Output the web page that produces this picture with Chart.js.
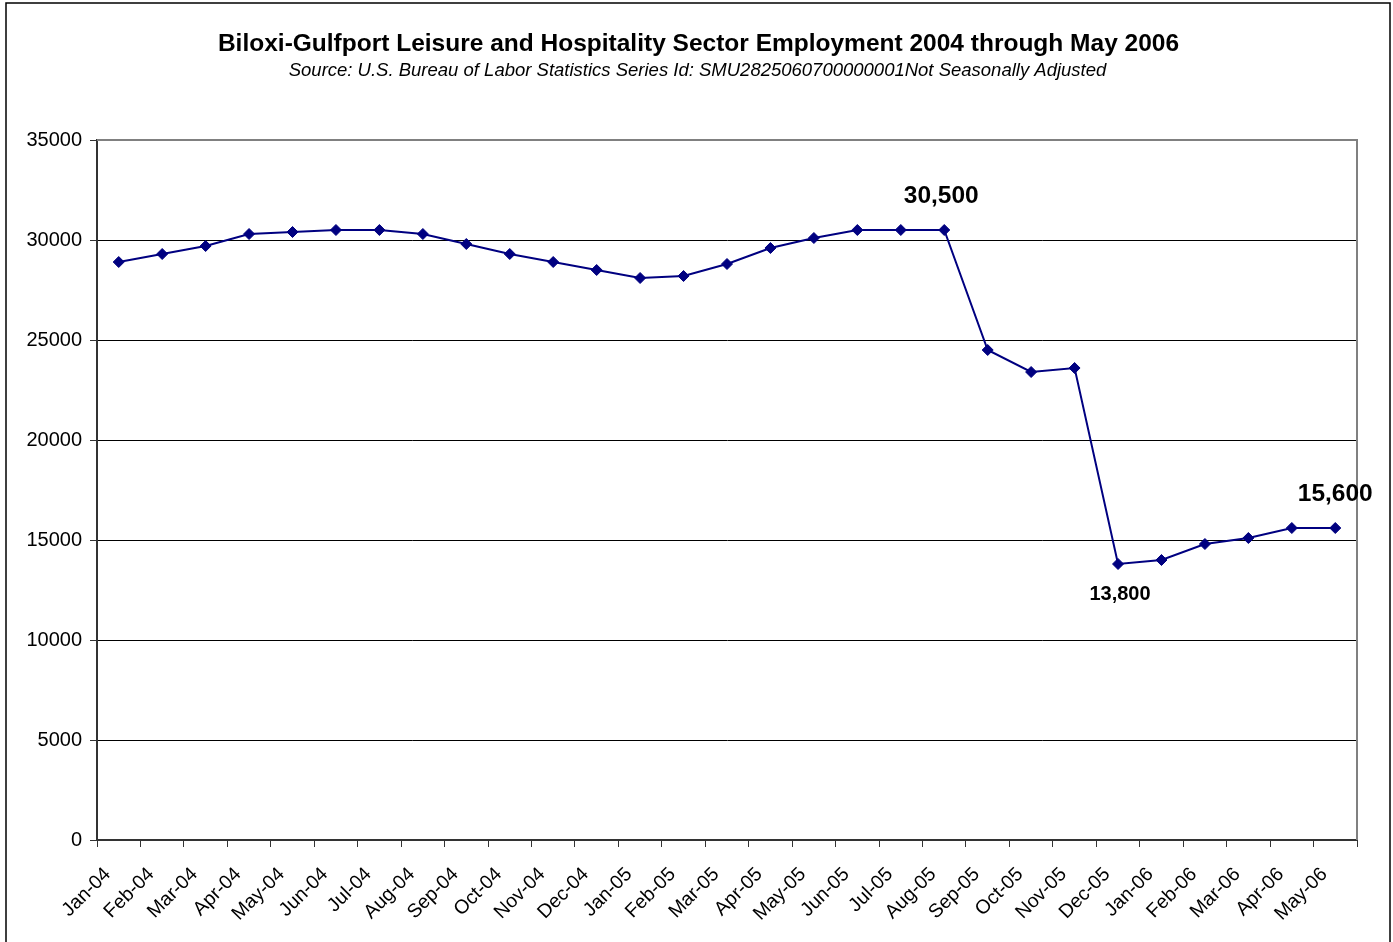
<!DOCTYPE html>
<html>
<head>
<meta charset="utf-8">
<title>Biloxi-Gulfport Leisure and Hospitality Employment</title>
<script src="https://cdn.jsdelivr.net/npm/chart.js@4.4.1/dist/chart.umd.min.js"></script>
<style>
  html, body { margin: 0; padding: 0; background: #fff; }
  #wrap { width: 1393px; height: 942px; }
</style>
</head>
<body>
<div id="wrap"><canvas id="grafico" width="1393" height="942"></canvas></div>
<script>
const titulo = 'Biloxi-Gulfport Leisure and Hospitality Sector Employment 2004 through May 2006';
const subtitulo = 'Source: U.S. Bureau of Labor Statistics Series Id: SMU2825060700000001Not Seasonally Adjusted';
const meses = [
  'Jan-04', 'Feb-04', 'Mar-04', 'Apr-04', 'May-04', 'Jun-04', 'Jul-04', 'Aug-04', 'Sep-04', 'Oct-04', 'Nov-04', 'Dec-04',
  'Jan-05', 'Feb-05', 'Mar-05', 'Apr-05', 'May-05', 'Jun-05', 'Jul-05', 'Aug-05', 'Sep-05', 'Oct-05', 'Nov-05', 'Dec-05',
  'Jan-06', 'Feb-06', 'Mar-06', 'Apr-06', 'May-06'
];
const empregos = [
  28900, 29300, 29700, 30300, 30400, 30500, 30500, 30300, 29800, 29300, 28900, 28500,
  28100, 28200, 28800, 29600, 30100, 30500, 30500, 30500, 24500, 23400, 23600, 13800,
  14000, 14800, 15100, 15600, 15600
];
const yTicks = [0, 5000, 10000, 15000, 20000, 25000, 30000, 35000];
// months that get a value callout
const destaques = ['Aug-05', 'Dec-05', 'May-06'];

const fonte = '"Liberation Sans", Arial, sans-serif';
const azul = '#000080';

// white background, outer frame, titles and plot area border (top/right in gray)
const moldura = {
  id: 'moldura',
  beforeDraw(chart) {
    const { ctx } = chart;
    ctx.save();
    ctx.fillStyle = '#fff';
    ctx.fillRect(0, 0, chart.width, chart.height);
    ctx.strokeStyle = '#000';
    ctx.lineWidth = 1.5;
    ctx.strokeRect(6, 3, 1384, 960);

    ctx.fillStyle = '#000';
    ctx.textAlign = 'center';
    ctx.textBaseline = 'middle';
    ctx.font = 'bold 24.5px ' + fonte;
    ctx.fillText(titulo, 698.5, 44);
    ctx.font = 'italic 18.5px ' + fonte;
    ctx.fillText(subtitulo, 697.5, 70.5);
    ctx.restore();
  },
  beforeDatasetsDraw(chart) {
    const { ctx, chartArea: a } = chart;
    ctx.save();
    ctx.strokeStyle = '#808080';
    ctx.lineWidth = 2;
    ctx.beginPath();
    ctx.moveTo(a.left, a.top);
    ctx.lineTo(a.right, a.top);
    ctx.lineTo(a.right, a.bottom);
    ctx.stroke();
    ctx.restore();
  }
};

// value callouts next to selected points
const rotulos = {
  id: 'rotulos',
  afterDatasetsDraw(chart) {
    const { ctx } = chart;
    const x = chart.scales.x, y = chart.scales.y;
    ctx.save();
    ctx.fillStyle = '#000';
    ctx.textAlign = 'center';
    ctx.textBaseline = 'alphabetic';
    destaques.forEach(m => {
      const i = meses.indexOf(m);
      const v = empregos[i];
      const px = x.getPixelForValue(i);
      const py = y.getPixelForValue(v);
      const ultimo = i === empregos.length - 1;
      const abaixo = !ultimo && i > 0 && v < empregos[i - 1] && v < empregos[i + 1];
      if (abaixo) {
        ctx.font = 'bold 20px ' + fonte;
        ctx.fillText(v.toLocaleString('en-US'), px + 2, py + 36);
      } else {
        ctx.font = 'bold 24.5px ' + fonte;
        ctx.fillText(v.toLocaleString('en-US'), px + (ultimo ? 0 : -3), py - 27);
      }
    });
    ctx.restore();
  }
};

new Chart(document.getElementById('grafico'), {
  type: 'line',
  data: {
    labels: meses,
    datasets: [{
      label: 'Employment',
      data: empregos,
      borderColor: azul,
      backgroundColor: azul,
      borderWidth: 2,
      pointStyle: 'rectRot',
      pointRadius: 5.5,
      pointBorderWidth: 1,
      pointBackgroundColor: azul,
      pointBorderColor: azul,
      tension: 0,
      fill: false
    }]
  },
  options: {
    responsive: false,
    animation: false,
    layout: { padding: { left: 10, right: 36, top: 140, bottom: 0 } },
    plugins: {
      legend: { display: false },
      tooltip: { enabled: false },
      title: { display: false }
    },
    scales: {
      x: {
        offset: true,
        grid: {
          offset: true,
          drawOnChartArea: false,
          drawTicks: true,
          tickLength: 7,
          color: '#333'
        },
        border: { display: true, color: '#333', width: 2 },
        ticks: {
          color: '#000',
          font: { family: fonte, size: 19.5 },
          minRotation: 45,
          maxRotation: 45,
          autoSkip: false,
          padding: 16,
          labelOffset: -11
        },
        afterFit(scale) { scale.height = 102; }
      },
      y: {
        min: 0,
        max: 35000,
        afterBuildTicks(scale) { scale.ticks = yTicks.map(v => ({ value: v })); },
        grid: {
          color: ctx => (ctx.tick && ctx.tick.value === 35000 ? '#808080' : '#000'),
          lineWidth: 1,
          drawTicks: true,
          tickLength: 7,
          tickColor: '#333'
        },
        border: { display: true, color: '#333', width: 2 },
        ticks: {
          color: '#000',
          font: { family: fonte, size: 20 },
          padding: 8,
          callback: v => String(v)
        },
        afterFit(scale) { scale.width = 87; }
      }
    }
  },
  plugins: [moldura, rotulos]
});
</script>
</body>
</html>
